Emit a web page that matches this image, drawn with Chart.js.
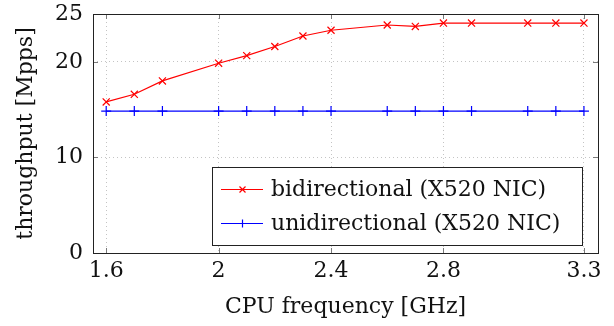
<!DOCTYPE html>
<html>
<head>
<meta charset="utf-8">
<script src="https://cdn.jsdelivr.net/npm/chart.js@4.4.1/dist/chart.umd.min.js"></script>
<style>
  html, body { margin: 0; padding: 0; background: #fff; }
  #wrap { width: 614px; height: 326px; }
</style>
</head>
<body>
<div id="wrap"><canvas id="c" width="614" height="326"></canvas></div>
<script>
// CPU frekvence (GHz) in izmerjene vrednosti
const freqs = [1.6, 1.7, 1.8, 2.0, 2.1, 2.2, 2.3, 2.4, 2.6, 2.7, 2.8, 2.9, 3.1, 3.2, 3.3];
const bidirectional = [15.8, 16.6, 18.0, 19.85, 20.65, 21.6, 22.7, 23.3, 23.85, 23.7, 24.05, 24.05, 24.05, 24.05, 24.05];
const unidirectional = [14.85, 14.85, 14.85, 14.85, 14.85, 14.85, 14.85, 14.85, 14.85, 14.85, 14.85, 14.85, 14.85, 14.85, 14.85];
const xTicks = [1.6, 2, 2.4, 2.8, 3.3];
const yTicks = [0, 10, 20, 25];

const FONT = "'DejaVu Serif', 'Liberation Serif', serif";
const FSIZE = 22;

const toPoints = (ys) => freqs.map((x, i) => ({ x: x, y: ys[i] }));

// okvir in notranje kljukice (pgfplots stil)
const framePlugin = {
  id: 'frame',
  afterDatasetsDraw(chart) {
    const { ctx, chartArea: a, scales } = chart;
    ctx.save();
    ctx.strokeStyle = '#7a7a7a';
    ctx.lineWidth = 1;
    const len = 5;
    for (const v of xTicks) {
      const px = Math.round(scales.x.getPixelForValue(v)) + 0.5;
      ctx.beginPath();
      ctx.moveTo(px, a.bottom); ctx.lineTo(px, a.bottom - len);
      ctx.moveTo(px, a.top); ctx.lineTo(px, a.top + len);
      ctx.stroke();
    }
    for (const v of yTicks) {
      const py = Math.round(scales.y.getPixelForValue(v)) + 0.5;
      ctx.beginPath();
      ctx.moveTo(a.left, py); ctx.lineTo(a.left + len, py);
      ctx.moveTo(a.right, py); ctx.lineTo(a.right - len, py);
      ctx.stroke();
    }
    ctx.strokeStyle = '#222';
    ctx.strokeRect(Math.round(a.left) + 0.5, Math.round(a.top) + 0.5,
      Math.round(a.right - a.left), Math.round(a.bottom - a.top));
    ctx.restore();
  }
};

// legenda znotraj grafa, spodaj desno
const legendPlugin = {
  id: 'innerLegend',
  afterDraw(chart) {
    const { ctx, chartArea: a } = chart;
    const sets = chart.data.datasets;
    ctx.save();
    ctx.font = FSIZE + 'px ' + FONT;
    const w = 370, h = 78;
    const x0 = a.right - 386, y0 = a.bottom - 86;
    ctx.fillStyle = '#fff';
    ctx.fillRect(x0, y0, w, h);
    ctx.strokeStyle = '#222';
    ctx.lineWidth = 1;
    ctx.strokeRect(x0 + 0.5, y0 + 0.5, w, h);
    sets.forEach((ds, i) => {
      const cy = y0 + 22.5 + i * 34;
      ctx.strokeStyle = ds.borderColor;
      ctx.lineWidth = 1.2;
      ctx.beginPath();
      ctx.moveTo(x0 + 9, cy); ctx.lineTo(x0 + 51, cy);
      ctx.stroke();
      const mx = x0 + 30.5, r = 3;
      ctx.beginPath();
      if (ds.pointStyle === 'crossRot') {
        ctx.moveTo(mx - r, cy - r); ctx.lineTo(mx + r, cy + r);
        ctx.moveTo(mx - r, cy + r); ctx.lineTo(mx + r, cy - r);
      } else {
        ctx.moveTo(mx - r - 1, cy); ctx.lineTo(mx + r + 1, cy);
        ctx.moveTo(mx, cy - r - 1); ctx.lineTo(mx, cy + r + 1);
      }
      ctx.stroke();
      ctx.fillStyle = '#111';
      ctx.textBaseline = 'middle';
      ctx.fillText(ds.label, x0 + 59, cy + 1);
    });
    ctx.restore();
  }
};

new Chart(document.getElementById('c').getContext('2d'), {
  type: 'line',
  data: {
    datasets: [
      {
        label: 'bidirectional (X520 NIC)',
        data: toPoints(bidirectional),
        borderColor: '#ff0000',
        backgroundColor: '#ff0000',
        borderWidth: 1.2,
        pointStyle: 'crossRot',
        pointRadius: 5,
        pointBorderWidth: 1.2,
        tension: 0
      },
      {
        label: 'unidirectional (X520 NIC)',
        data: toPoints(unidirectional),
        borderColor: '#0000ff',
        backgroundColor: '#0000ff',
        borderWidth: 1.2,
        pointStyle: 'cross',
        pointRadius: 5,
        pointBorderWidth: 1.2,
        tension: 0
      }
    ]
  },
  options: {
    responsive: false,
    animation: false,
    layout: { padding: { top: 14, right: 16, bottom: 2, left: 11 } },
    plugins: { legend: { display: false }, tooltip: { enabled: false } },
    scales: {
      x: {
        type: 'linear',
        min: 1.553,
        max: 3.35,
        afterBuildTicks: (s) => { s.ticks = xTicks.map(v => ({ value: v })); },
        afterFit: (s) => { s.height = 71; s.paddingLeft = 0; s.paddingRight = 0; },
        ticks: {
          font: { family: FONT, size: FSIZE },
          color: '#111',
          padding: 5,
          autoSkip: false,
          maxRotation: 0,
          callback: (v) => String(v)
        },
        grid: { color: '#c4c4c4', lineWidth: 1, drawTicks: false },
        border: { display: false, dash: [1, 3] },
        title: {
          display: true,
          text: 'CPU frequency [GHz]',
          font: { family: FONT, size: FSIZE },
          color: '#111',
          padding: { top: 4, bottom: 4 }
        }
      },
      y: {
        min: 0,
        max: 25,
        afterBuildTicks: (s) => { s.ticks = yTicks.map(v => ({ value: v })); },
        afterFit: (s) => { s.width = 82; s.paddingTop = 0; s.paddingBottom = 0; },
        ticks: {
          font: { family: FONT, size: FSIZE },
          color: '#111',
          padding: 10
        },
        grid: { color: '#c4c4c4', lineWidth: 1, drawTicks: false },
        border: { display: false, dash: [1, 3] },
        title: {
          display: true,
          text: 'throughput [Mpps]',
          font: { family: FONT, size: FSIZE },
          color: '#111',
          padding: { top: 2, bottom: 4 }
        }
      }
    }
  },
  plugins: [framePlugin, legendPlugin]
});
</script>
</body>
</html>
